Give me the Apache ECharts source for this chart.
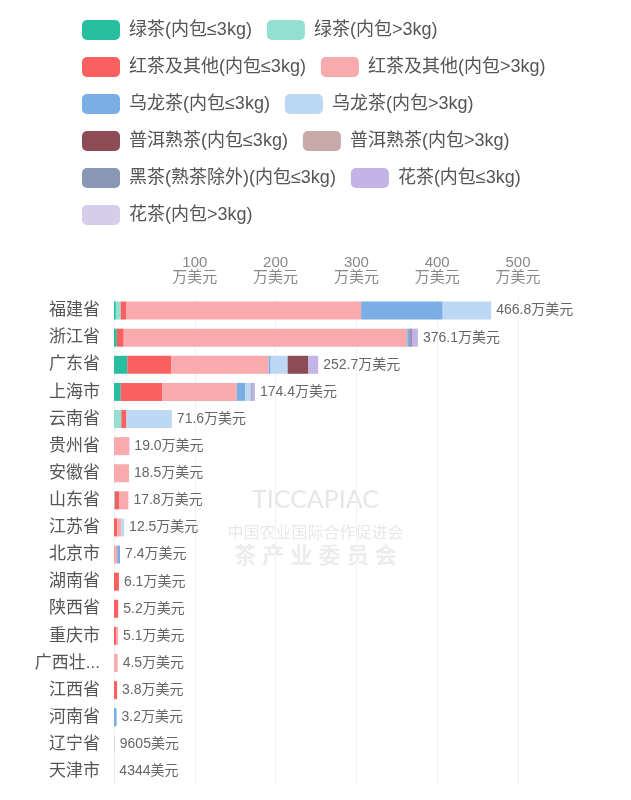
<!DOCTYPE html>
<html>
<head>
<meta charset="utf-8">
<script src="https://cdn.jsdelivr.net/npm/echarts@6/dist/echarts.min.js"></script>
<style>
html,body{margin:0;padding:0;background:#fff;}
#chart{width:631px;height:800px;}
</style>
</head>
<body>
<div id="chart"></div>
<script>
// Categories (provinces), top to bottom
const provinces = ['福建省','浙江省','广东省','上海市','云南省','贵州省','安徽省','山东省','江苏省','北京市','湖南省','陕西省','重庆市','广西壮族自治区','江西省','河南省','辽宁省','天津市'];

// Series values, 万美元
const greenSmall   = [2.3, 3.5, 16.5, 8.3, 0, 0, 0, 0, 0, 0, 0, 0, 0, 0, 0, 0, 0, 0];
const greenLarge   = [6.0, 0, 0, 0, 9.0, 0, 0, 1.0, 0, 0, 0, 0, 0, 0, 0, 0, 0, 0];
const redSmall     = [6.5, 8.5, 54.5, 51.5, 6.4, 0, 0, 5.8, 4.0, 0, 6.1, 5.2, 3.0, 0, 3.8, 0, 0, 0];
const redLarge     = [291.0, 351.0, 120.4, 92.0, 0, 19.0, 18.5, 11.0, 5.0, 4.0, 0, 0, 2.1, 4.5, 0, 0, 0, 0];
const oolongSmall  = [101.0, 4.0, 2.5, 10.4, 0, 0, 0, 0, 0, 3.4, 0, 0, 0, 0, 0, 3.2, 0, 0];
const oolongLarge  = [60.0, 0, 21.0, 7.2, 56.2, 0, 0, 0, 3.5, 0, 0, 0, 0, 0, 0, 0, 0, 0];
const puerSmall    = [0, 1.5, 25.2, 0, 0, 0, 0, 0, 0, 0, 0, 0, 0, 0, 0, 0, 0, 0];
const puerLarge    = [0, 0, 0, 0, 0, 0, 0, 0, 0, 0, 0, 0, 0, 0, 0, 0, 0, 0];
const darkTea      = [0, 0, 0, 1.2, 0, 0, 0, 0, 0, 0, 0, 0, 0, 0, 0, 0, 0, 0];
const flowerSmall  = [0, 7.6, 12.6, 3.8, 0, 0, 0, 0, 0, 0, 0, 0, 0, 0, 0, 0, 0, 0];
const flowerLarge  = [0, 0, 0, 0, 0, 0, 0, 0, 0, 0, 0, 0, 0, 0, 0, 0, 0.9605, 0.4344];

// Totals shown as labels (万美元)
const totals = [466.8, 376.1, 252.7, 174.4, 71.6, 19.0, 18.5, 17.8, 12.5, 7.4, 6.1, 5.2, 5.1, 4.5, 3.8, 3.2, 0.9605, 0.4344];

// Axis ticks
const axisTicks = [100, 200, 300, 400, 500];

const seriesNames = ['绿茶(内包≤3kg)','绿茶(内包>3kg)','红茶及其他(内包≤3kg)','红茶及其他(内包>3kg)','乌龙茶(内包≤3kg)','乌龙茶(内包>3kg)','普洱熟茶(内包≤3kg)','普洱熟茶(内包>3kg)','黑茶(熟茶除外)(内包≤3kg)','花茶(内包≤3kg)','花茶(内包>3kg)'];
const seriesData = [greenSmall, greenLarge, redSmall, redLarge, oolongSmall, oolongLarge, puerSmall, puerLarge, darkTea, flowerSmall, flowerLarge];
const colors = ['#27bf9f','#93e0d1','#f9605f','#f9aaad','#7aaee4','#bdd8f2','#8d4b56','#c8a9aa','#8898b4','#c2b4e6','#d6cdea'];

const FONT = "'Liberation Sans','Noto Sans CJK SC',sans-serif";

const series = seriesNames.map((n, i) => ({
  name: n,
  type: 'bar',
  stack: 'total',
  barWidth: 18,
  data: seriesData[i],
  itemStyle: { color: colors[i] }
}));
series.push({
  name: '合计',
  type: 'bar',
  stack: 'total',
  barWidth: 18,
  data: totals.map(() => 0),
  itemStyle: { color: 'transparent' },
  label: {
    show: true,
    position: 'right',
    distance: 5,
    color: '#666',
    fontSize: 14,
    fontFamily: FONT,
    formatter: p => {
      const v = totals[p.dataIndex];
      return v < 1 ? Math.round(v * 10000) + '美元' : v.toFixed(1) + '万美元';
    }
  }
});

const chart = echarts.init(document.getElementById('chart'), null, { renderer: 'canvas' });
chart.setOption({
  backgroundColor: '#fff',
  animation: false,
  color: colors,
  legend: {
    data: seriesNames,
    left: 82,
    top: 19,
    width: 490,
    padding: 0,
    itemWidth: 38,
    itemHeight: 20,
    itemGap: 15,
    icon: 'roundRect',
    textStyle: { fontSize: 18, color: '#555', fontFamily: FONT, lineHeight: 22, padding: [0, 0, 0, 4] }
  },
  graphic: [
    { type: 'text', left: 'center', top: 487, z: 0, style: { text: 'TICCAPIAC', fontSize: 25, fontFamily: "'Lato',sans-serif", fill: '#e6e6e6' } },
    { type: 'text', left: 'center', top: 526, z: 0, style: { text: '中国农业国际合作促进会', fontSize: 16, fontFamily: FONT, fill: '#e8e8e8' } },
    { type: 'text', left: 'center', top: 546, z: 0, style: { text: '茶 产 业 委 员 会', fontSize: 22, fontWeight: 'bold', fontFamily: FONT, fill: '#ececec' } }
  ],
  grid: { left: 114, right: 113, top: 297, bottom: 15, containLabel: false },
  xAxis: {
    type: 'value',
    position: 'top',
    min: 0,
    max: 500,
    interval: 100,
    axisLine: { show: false },
    axisTick: { show: false },
    splitLine: { show: true, lineStyle: { color: '#f1f1f1', width: 1 } },
    axisLabel: {
      margin: 12,
      color: '#888',
      fontSize: 15,
      lineHeight: 15,
      fontFamily: FONT,
      formatter: v => axisTicks.includes(v) ? v + '\n万美元' : ''
    }
  },
  yAxis: {
    type: 'category',
    inverse: true,
    data: provinces,
    axisLine: { show: false },
    axisTick: { show: false },
    axisLabel: {
      margin: 14,
      color: '#555',
      fontSize: 17,
      fontFamily: FONT,
      width: 70,
      overflow: 'truncate',
      ellipsis: '...'
    }
  },
  series: series
});
</script>
</body>
</html>
